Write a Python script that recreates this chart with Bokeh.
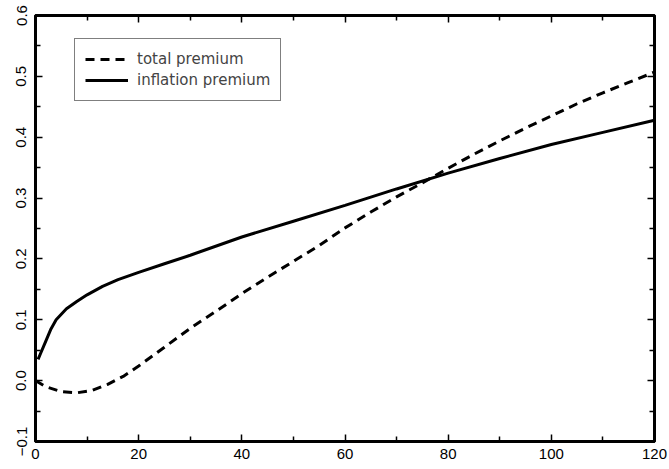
from bokeh.plotting import figure
from bokeh.models import LinearAxis, CustomJSTickFormatter, FixedTicker, Legend, LegendItem, Range1d
from bokeh.embed import file_html
from bokeh.resources import INLINE

# total premium (dashed)
total_x = [0, 2, 5, 8, 11, 14, 17, 20, 25, 30, 35, 40, 45, 50, 55, 60, 65, 70, 75, 80,
           85, 90, 95, 100, 105, 110, 115, 120]
total_y = [0.0, -0.010, -0.018, -0.020, -0.016, -0.006, 0.007, 0.024, 0.055, 0.086, 0.114,
           0.143, 0.170, 0.196, 0.222, 0.251, 0.277, 0.302, 0.325, 0.349, 0.372, 0.394,
           0.415, 0.435, 0.455, 0.473, 0.490, 0.507]

# inflation premium (solid)
infl_x = [0.5, 1, 2, 3, 4, 6, 8, 10, 13, 16, 20, 25, 30, 40, 50, 60, 70, 80, 90, 100, 110, 120]
infl_y = [0.035, 0.045, 0.065, 0.085, 0.100, 0.118, 0.130, 0.141, 0.155, 0.166, 0.178, 0.192,
          0.206, 0.236, 0.262, 0.288, 0.315, 0.341, 0.365, 0.388, 0.408, 0.428]

x_major = [0, 20, 40, 60, 80, 100, 120]
x_minor = [10, 30, 50, 70, 90, 110]
y_major = [-0.1, 0.0, 0.1, 0.2, 0.3, 0.4, 0.5, 0.6]
y_minor = [-0.05, 0.05, 0.15, 0.25, 0.35, 0.45, 0.55]

labels = ["total premium", "inflation premium"]

p = figure(width=669, height=469, output_backend="svg", toolbar_location=None,
           x_range=Range1d(0, 120), y_range=Range1d(-0.1, 0.6),
           x_axis_location=None, y_axis_location=None,
           min_border_left=35, min_border_right=15, min_border_top=15, min_border_bottom=28)
p.grid.visible = False
p.outline_line_color = "black"
p.outline_line_width = 3

FONT = "Liberation Sans"

def make_axis(ticks_major, ticks_minor, fmt):
    ax = LinearAxis(ticker=FixedTicker(ticks=ticks_major, minor_ticks=ticks_minor))
    ax.axis_line_width = 3
    ax.axis_line_color = "black"
    ax.major_tick_in = 7
    ax.major_tick_out = 0
    ax.minor_tick_in = 5
    ax.minor_tick_out = 0
    ax.major_tick_line_width = 1.5
    ax.minor_tick_line_width = 1.5
    ax.major_label_text_font = FONT
    ax.major_label_text_font_size = "15px"
    ax.major_label_text_color = "black"
    ax.major_label_standoff = 7
    ax.formatter = fmt
    return ax

xfmt = CustomJSTickFormatter(code="return tick.toFixed(0);")
yfmt = CustomJSTickFormatter(code="return (tick < -1e-9 ? '\u2212' : '') + Math.abs(tick).toFixed(1);")
blank = CustomJSTickFormatter(code="return '';")

bottom = make_axis(x_major, x_minor, xfmt)
top = make_axis(x_major, x_minor, blank)
left = make_axis(y_major, y_minor, yfmt)
left.major_label_orientation = "vertical"
left.major_label_standoff = 9
right = make_axis(y_major, y_minor, blank)
p.add_layout(bottom, "below")
p.add_layout(top, "above")
p.add_layout(left, "left")
p.add_layout(right, "right")

r_total = p.line(total_x, total_y, line_color="black", line_width=3, line_dash="9 6")
r_infl = p.line(infl_x, infl_y, line_color="black", line_width=3)

legend = Legend(items=[LegendItem(label=labels[0], renderers=[r_total]),
                       LegendItem(label=labels[1], renderers=[r_infl])],
                location=(39, 340))
legend.border_line_color = "black"
legend.border_line_width = 1.5
legend.background_fill_alpha = 1
legend.padding = 10
legend.spacing = 1
legend.label_height = 20
legend.glyph_height = 20
legend.glyph_width = 43
legend.label_standoff = 9
legend.label_text_font = "DejaVu Sans"
legend.label_text_font_size = "15px"
legend.margin = 0
p.add_layout(legend)

open("out.html", "w").write(file_html(p, INLINE))
